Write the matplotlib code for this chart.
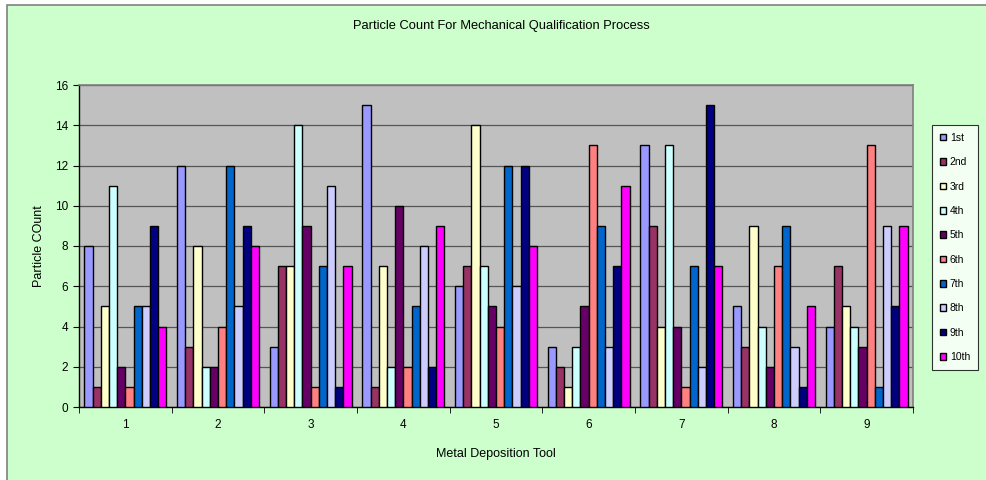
from matplotlib import pyplot as plt
from matplotlib.patches import Rectangle
import numpy as np

plt.rcParams['font.family'] = ['Liberation Sans', 'DejaVu Sans']

tools = ['1', '2', '3', '4', '5', '6', '7', '8', '9']
runs = ['1st', '2nd', '3rd', '4th', '5th', '6th', '7th', '8th', '9th', '10th']

# particle counts per run, one value per tool
run_1st = [8, 12, 3, 15, 6, 3, 13, 5, 4]
run_2nd = [1, 3, 7, 1, 7, 2, 9, 3, 7]
run_3rd = [5, 8, 7, 7, 14, 1, 4, 9, 5]
run_4th = [11, 2, 14, 2, 7, 3, 13, 4, 4]
run_5th = [2, 2, 9, 10, 5, 5, 4, 2, 3]
run_6th = [1, 4, 1, 2, 4, 13, 1, 7, 13]
run_7th = [5, 12, 7, 5, 12, 9, 7, 9, 1]
run_8th = [5, 5, 11, 8, 6, 3, 2, 3, 9]
run_9th = [9, 9, 1, 2, 12, 7, 15, 1, 5]
run_10th = [4, 8, 7, 9, 8, 11, 7, 5, 9]

series = [run_1st, run_2nd, run_3rd, run_4th, run_5th,
          run_6th, run_7th, run_8th, run_9th, run_10th]
colors = ['#9999FF', '#993366', '#FFFFCC', '#CCFFFF', '#660066',
          '#FF8080', '#0066CC', '#CCCCFF', '#000080', '#FF00FF']

fig = plt.figure(figsize=(9.87, 4.8), dpi=100)
fig.patch.set_facecolor('white')
# chart area background with gray border
bg = Rectangle((7/987, -0.1), 1.1, 1 - 5/480 + 0.1,
               transform=fig.transFigure, facecolor='#CCFFCC',
               edgecolor='#808080', linewidth=1.2, zorder=-10)
fig.add_artist(bg)

ax = fig.add_axes([79/987, 1 - 407/480, (913 - 79)/987, (407 - 85)/480])
ax.set_zorder(1)
ax.set_facecolor('#C0C0C0')

n = len(series)
w = 1.0 / (n + 1.3)
x = np.arange(1, len(tools) + 1)
for i, (vals, c) in enumerate(zip(series, colors)):
    offs = (i - (n - 1) / 2) * w
    ax.bar(x + offs, vals, width=w, color=c, edgecolor='black',
           linewidth=1.0, label=runs[i], zorder=3)

ax.set_xlim(0.5, len(tools) + 0.5)
ax.set_ylim(0, 16)
ax.set_yticks(range(0, 17, 2))
ax.yaxis.grid(True, color='#555555', linewidth=0.9, zorder=1)
ax.set_axisbelow(True)

ax.set_xticks(x)
ax.set_xticklabels(tools)
ax.set_xticks(np.arange(0.5, len(tools) + 1, 1), minor=True)
ax.tick_params(axis='x', which='major', length=0, pad=9, labelsize=8.5)
ax.tick_params(axis='x', which='minor', length=4, direction='out', color='black')
ax.tick_params(axis='y', length=4, direction='out', labelsize=8.5, pad=4)

for s in ['top', 'right']:
    ax.spines[s].set_color('#808080')
    ax.spines[s].set_linewidth(1.2)
for s in ['left', 'bottom']:
    ax.spines[s].set_color('black')
    ax.spines[s].set_linewidth(1.0)

ax.set_xlabel('Metal Deposition Tool', fontsize=9, labelpad=12)
ax.set_ylabel('Particle COunt', fontsize=9, labelpad=7)
fig.text(501/987, 1 - 26/480, 'Particle Count For Mechanical Qualification Process',
         ha='center', va='center', fontsize=9.3)

leg = fig.legend(loc='upper left', bbox_to_anchor=(932/987, 1 - 125/480),
                 fontsize=7.5, frameon=True, fancybox=False, edgecolor='black',
                 facecolor='white', handlelength=0.6, handleheight=0.6,
                 handletextpad=0.35, labelspacing=1.38, borderpad=0.75,
                 borderaxespad=0)
leg.get_frame().set_linewidth(0.8)
leg.set_zorder(2)

plt.savefig('out.png', dpi=100)
